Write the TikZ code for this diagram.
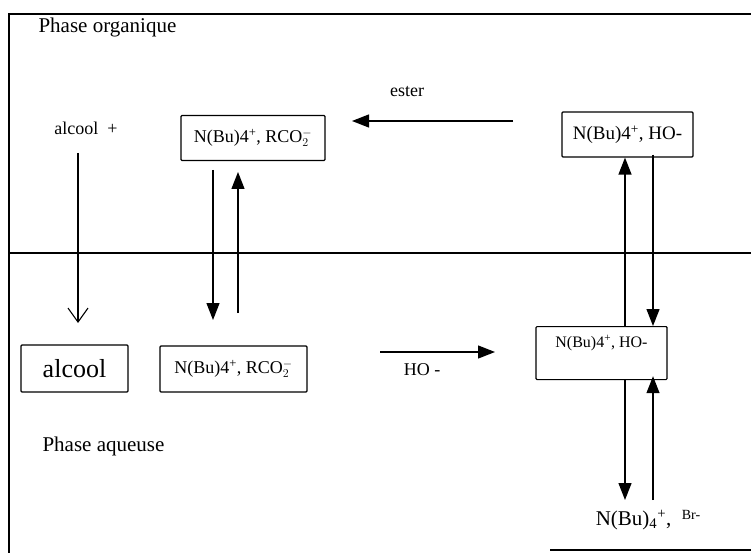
\documentclass[tikz,border=0pt]{standalone}
\usepackage{fontspec}
\setmainfont{Liberation Serif}
\usetikzlibrary{arrows.meta}
\tikzset{
  box/.style={draw, line width=1.2pt, rounded corners=1pt, inner sep=2pt, font=\fontsize{18}{21}\selectfont},
  arr/.style={line width=1.3pt, -{Triangle[length=17pt,width=13pt]}},
  lbl/.style={font=\fontsize{18}{21}\selectfont}
}
\begin{document}
\begin{tikzpicture}[x=1pt,y=-1pt]
\useasboundingbox (0,0) rectangle (751,553);
% cadre et interface
\draw[line width=1.5pt] (751,14) -- (9,14) -- (9,553);
\draw[line width=1.5pt] (9,253) -- (751,253);
\draw[line width=1.5pt] (550,550) -- (751,550);
\node[lbl,font=\fontsize{21}{24}\selectfont,anchor=west] (orga) at (35,27) {Phase organique};
\node[lbl,font=\fontsize{21}{24}\selectfont,anchor=west] (aque) at (39,446) {Phase aqueuse};

% phase organique
\node[lbl] (alc1) at (86,128) {alcool~~+};
\node[box,minimum width=144,minimum height=45] (rco1) at (253,138) {N(Bu)4\textsuperscript{+}, RCO$_2^-$};
\node[box,minimum width=131,minimum height=45,font=\fontsize{19}{22}\selectfont] (ho1) at (627.5,134.5) {N(Bu)4\textsuperscript{+}, HO-};
\node[lbl] (est) at (407,92) {ester};

% phase aqueuse
\node[box,minimum width=107,minimum height=47,font=\fontsize{26}{30}\selectfont] (alc2) at (74.5,368.5) {alcool};
\node[box,minimum width=147,minimum height=46] (rco2) at (233.5,369) {N(Bu)4\textsuperscript{+}, RCO$_2^-$};
\node[box,minimum width=131,text height=17pt,text depth=28pt,inner ysep=4pt,font=\fontsize{16}{19}\selectfont] (ho2) at (601.5,326) [anchor=north] {N(Bu)4\textsuperscript{+}, HO-};
\node[lbl] (hom) at (422,370) {HO -};
\node[font=\fontsize{21}{24}\selectfont] (br) at (648,520) {N(Bu)\textsubscript{4}\textsuperscript{+},~~\raisebox{6pt}{\fontsize{14}{16}\selectfont Br-}};

% extremites libres
\coordinate (e1) at (513,121);
\coordinate (e2) at (352,121);
\coordinate (a1) at (78,153);
\coordinate (a2) at (78,323);
\coordinate (d1) at (213,170);
\coordinate (d2) at (213,320);
\coordinate (u1) at (238,313);
\coordinate (u2) at (238,172);
\coordinate (h1) at (380,352);
\coordinate (h2) at (495,352);
\coordinate (ux) at (625,0);
\coordinate (dx) at (653,0);
\coordinate (b1) at (625,500);
\coordinate (b2) at (653,500);

\draw[arr] (e1) -- (e2);
\draw[line width=1.1pt,-{Straight Barb[length=14pt,width=20pt]}] (a1) -- (a2);
\draw[arr] (d1) -- (d2);
\draw[arr] (u1) -- (u2);
\draw[arr] (h1) -- (h2);
\draw[arr] (ho2.north -| ux) -- (ho1.south -| ux);
\draw[arr] ([yshift=3]ho1.south -| dx) -- (ho2.north -| dx);
\draw[arr] (ho2.south -| ux) -- (b1);
\draw[arr] (b2) -- ([yshift=4]ho2.south -| dx);
\end{tikzpicture}
\end{document}
